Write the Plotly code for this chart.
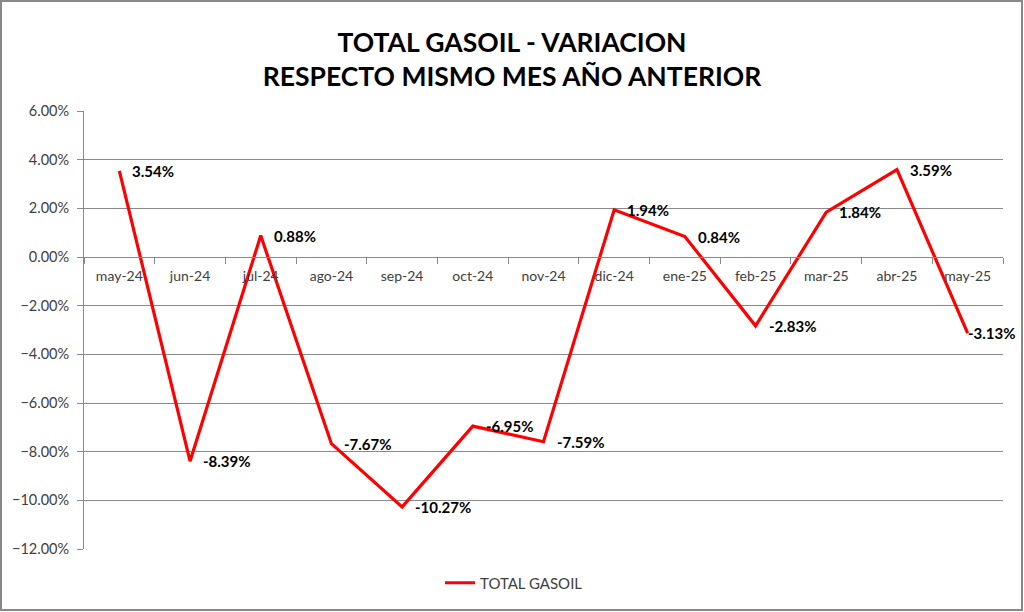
import plotly.graph_objects as go

categories = ["may-24", "jun-24", "jul-24", "ago-24", "sep-24", "oct-24", "nov-24",
              "dic-24", "ene-25", "feb-25", "mar-25", "abr-25", "may-25"]
values_pct = [3.54, -8.39, 0.88, -7.67, -10.27, -6.95, -7.59, 1.94, 0.84, -2.83, 1.84, 3.59, -3.13]
series_name = "TOTAL GASOIL"
title_lines = ["TOTAL GASOIL - VARIACION", "RESPECTO MISMO MES AÑO ANTERIOR"]

vals = [v / 100 for v in values_pct]

W, H = 1024, 612
L, R, T, B = 84, 21, 111, 63
pw, ph = W - L - R, H - T - B

FONT = "Lato"
fig = go.Figure()
fig.add_trace(go.Scatter(
    x=categories, y=vals, mode="lines", name=series_name,
    line=dict(color="#FF0000", width=3.2),
))

annotations = []
n = len(categories)
for i, (c, v, p) in enumerate(zip(categories, vals, values_pct)):
    # last label is nudged left to stay inside the chart (as the spreadsheet does)
    shift = 11 if i < n - 1 else -2
    annotations.append(dict(
        x=c, y=v, xref="x", yref="y", text=f"<b>{p:.2f}%</b>", showarrow=False,
        xanchor="left", yanchor="middle", xshift=shift,
        font=dict(family=FONT, size=15, color="#000000"),
    ))

fig.update_layout(
    width=W, height=H,
    margin=dict(l=L, r=R, t=T, b=B, autoexpand=False),
    paper_bgcolor="white", plot_bgcolor="white",
    title=dict(
        text="<b>" + "<br>".join(title_lines) + "</b>",
        x=0.5, xanchor="center", y=1 - 52 / H, yanchor="middle",
        font=dict(family=FONT, size=26.5, color="#000000"),
    ),
    xaxis=dict(
        type="category", range=[-0.5, n - 0.5],
        anchor="free", position=2 / 3,
        showline=True, linecolor="#898989", linewidth=1,
        ticks="outside", tickson="boundaries", ticklen=6, tickcolor="#898989",
        ticklabelstandoff=6,
        showgrid=False, zeroline=False,
        tickfont=dict(family=FONT, size=14, color="#404040"),
    ),
    yaxis=dict(
        range=[-0.12, 0.06], dtick=0.02, tick0=0, tickformat=".2%",
        showline=True, linecolor="#898989", linewidth=1,
        ticks="outside", ticklen=6, tickcolor="#898989",
        ticklabelstandoff=5,
        showgrid=True, gridcolor="#898989", gridwidth=1,
        zeroline=False,
        tickfont=dict(family=FONT, size=14.5, color="#404040"),
    ),
    showlegend=True,
    legend=dict(
        orientation="h", x=(514 - L) / pw, xanchor="center", y=(549 - 583) / ph, yanchor="middle",
        font=dict(family=FONT, size=15, color="#404040"),
    ),
    annotations=annotations,
    shapes=[dict(
        type="rect", xref="paper", yref="paper",
        x0=(1 - L) / pw, x1=(1022 - L) / pw,
        y0=(H - B - 610) / ph, y1=(H - B - 1) / ph,
        line=dict(color="#898989", width=2), fillcolor="rgba(0,0,0,0)", layer="above",
    )],
)

fig.write_html(
    "out.html",
    config={"displayModeBar": False},
    post_script="document.body.style.margin='0px';document.body.style.overflow='hidden';",
)
